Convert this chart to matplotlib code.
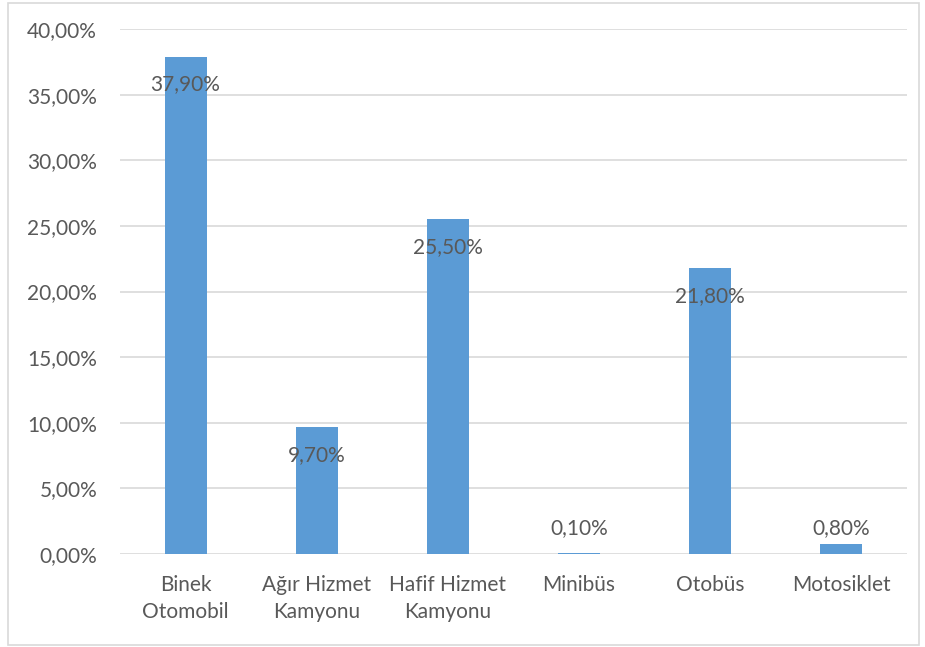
import matplotlib.pyplot as plt
from matplotlib.patches import Rectangle
from matplotlib.ticker import FuncFormatter

kategoriler = ["Binek\nOtomobil", "Ağır Hizmet\nKamyonu", "Hafif Hizmet\nKamyonu",
               "Minibüs", "Otobüs", "Motosiklet"]
oranlar = [37.9, 9.7, 25.5, 0.1, 21.8, 0.8]
etiketler = ["37,90%", "9,70%", "25,50%", "0,10%", "21,80%", "0,80%"]

plt.rcParams['font.family'] = ['Lato', 'DejaVu Sans']
renk = "#5B9BD5"
yazi = "#595959"
fs = 15

fig = plt.figure(figsize=(9.25, 6.47), dpi=100)
ax = fig.add_axes([0.1297, 0.1437, 0.8508, 0.8115])

x = range(len(kategoriler))
ax.bar(x, oranlar, width=0.32, color=renk, zorder=3)

for i, v in enumerate(oranlar):
    if v > 2:
        ax.annotate(etiketler[i], (i, v), xytext=(0, -28), textcoords='offset pixels',
                    ha='center', va='center', fontsize=fs, color=yazi, zorder=4)
    else:
        ax.annotate(etiketler[i], (i, 0), xytext=(0, 26), textcoords='offset pixels',
                    ha='center', va='center', fontsize=fs, color=yazi, zorder=4)

ax.set_ylim(0, 40)
ax.set_xlim(-0.5, len(kategoriler) - 0.5)
ax.set_yticks([0, 5, 10, 15, 20, 25, 30, 35, 40])
ax.yaxis.set_major_formatter(FuncFormatter(lambda v, p: f"{v:.2f}%".replace(".", ",")))
ax.set_xticks(list(x))
ax.set_xticklabels(kategoriler, linespacing=1.45)
ax.grid(axis='y', color="#D9D9D9", linewidth=1.2, zorder=0)
for s in ax.spines.values():
    s.set_visible(False)
ax.tick_params(axis='both', length=0, labelsize=fs, labelcolor=yazi)
ax.tick_params(axis='y', pad=16.5)
ax.tick_params(axis='x', pad=15)

fig.patches.append(Rectangle((8 / 925, 2 / 647), 911 / 925, 642 / 647, transform=fig.transFigure,
                             fill=False, edgecolor="#D9D9D9", linewidth=1.2))

plt.savefig("out.png", dpi=100)
